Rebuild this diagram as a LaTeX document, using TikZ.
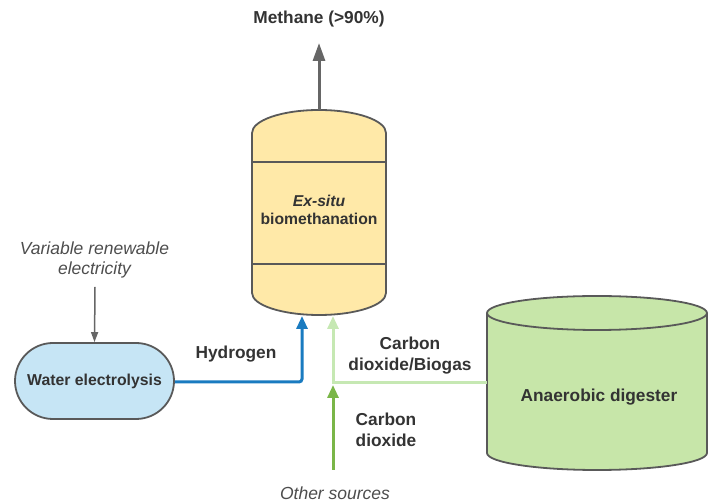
\documentclass[tikz,border=0pt]{standalone}
\usepackage{fontspec}
\setmainfont{Liberation Sans}
\usetikzlibrary{arrows.meta,shapes.misc}
\definecolor{txt}{HTML}{333333}
\definecolor{itxt}{HTML}{4D4D4D}
\definecolor{edge}{HTML}{595959}
\definecolor{tankfill}{HTML}{FFE9A8}
\definecolor{bluefill}{HTML}{C6E5F5}
\definecolor{greenfill}{HTML}{C7E6A9}
\definecolor{hblue}{HTML}{1A7BC0}
\definecolor{lgreen}{HTML}{C6E8B3}
\definecolor{dgreen}{HTML}{7AB648}
\definecolor{garrow}{HTML}{666666}
\tikzset{
  lbl/.style={text=txt,font=\fontsize{17.3}{21}\selectfont\bfseries,align=center,inner sep=0pt},
  ilbl/.style={text=itxt,font=\fontsize{17.5}{20.5}\selectfont\itshape,align=center,inner sep=0pt},
  shapeline/.style={draw=edge,line width=1.8pt},
  flow/.style={line width=3pt,-{Triangle[length=13pt,width=11pt]}}
}
\begin{document}
\begin{tikzpicture}[x=1pt,y=1pt]
\useasboundingbox (0,0) rectangle (708,502);
% tank
\filldraw[shapeline,fill=tankfill] (252,209) -- (252,369) arc[start angle=180,end angle=0,x radius=67pt,y radius=23pt] -- (386,209) arc[start angle=0,end angle=-180,x radius=67pt,y radius=22pt] -- cycle;
\draw[shapeline] (252,340) -- (386,340);
\draw[shapeline] (252,238) -- (386,238);
\coordinate (tanktop) at (319,392);
\node[lbl,font=\fontsize{15.7}{18}\selectfont\bfseries] (tanklbl) at (319,292) {\textit{Ex-situ}\\biomethanation};
\coordinate (tankin1) at (302,186);
\coordinate (tankin2) at (333,186);
% methane
\node[lbl] (methane) at (319,483) {Methane (>90\%)};
\draw[garrow,line width=3pt,-{Triangle[length=18pt,width=12pt]}] (tanktop) -- (319,459) coordinate (mtip);
% electrolysis
\node[ilbl] (vre) at (94.5,242) {Variable renewable\\electricity};
\node[shapeline,fill=bluefill,rounded rectangle,minimum width=159pt,minimum height=76pt,inner sep=0pt,text=txt,font=\fontsize{15.8}{18}\selectfont\bfseries] (we) at (94.5,121) {Water electrolysis};
\draw[garrow,line width=1.5pt,-{Triangle[length=10pt,width=7pt]}] (95,215) -- (we.north);
% hydrogen
\draw[hblue,flow,rounded corners=3pt] (we.east |- 0,120) -- (302,120) -- (tankin1);
\node[lbl] (h2) at (236,148) {Hydrogen};
% digester cylinder
\filldraw[shapeline,fill=greenfill] (487,189) -- (487,49) arc[start angle=180,end angle=360,x radius=110pt,y radius=17pt] -- (707,189) arc[start angle=0,end angle=180,x radius=110pt,y radius=17pt] -- cycle;
\draw[shapeline] (487,189) arc[start angle=180,end angle=360,x radius=110pt,y radius=17pt];
\node[lbl] (ad) at (599,105) {Anaerobic digester};
% biogas
\coordinate (junc) at (333,119);
\draw[lgreen,flow] (487,119) -- (junc) -- (tankin2);
\node[lbl] (biogas) at (410,146) {Carbon\\dioxide/Biogas};
% other sources
\node[ilbl] (other) at (335,9) {Other sources};
\draw[dgreen,flow] (333,32) -- (333,117);
\node[lbl] (co2) at (386,72) {Carbon\\dioxide};
\end{tikzpicture}
\end{document}
